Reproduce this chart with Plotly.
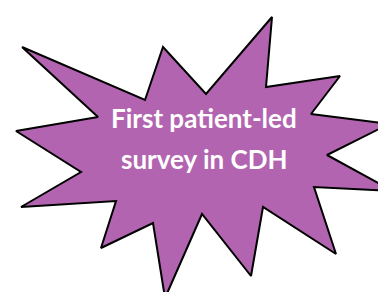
import plotly.graph_objects as go

# Starburst outline vertices (tip / inner alternating), in picture units
star_x = [14, 137, 155, 198, 264, 258, 332, 303, 381, 319, 385, 306,
          328, 255, 243, 194, 157, 145, 93, 108, 13, 73, 8, 90, 14]
star_y = [39, 92, 39, 86, 9, 79, 68, 106, 116, 147, 183, 179,
          246, 199, 268, 206, 290, 215, 240, 193, 199, 164, 123, 109, 39]

label_lines = ["First patient-led", "survey in CDH"]
label_y = [110, 151]
label_x = 196

fig = go.Figure()
fig.add_trace(go.Scatter(
    x=star_x, y=star_y, mode="lines", fill="toself",
    fillcolor="#B264B0", line=dict(color="#000000", width=2),
    hoverinfo="skip", showlegend=False))

for txt, yy in zip(label_lines, label_y):
    fig.add_annotation(x=label_x, y=yy, text="<b>%s</b>" % txt, showarrow=False,
                       font=dict(family="Lato", size=26, color="#FFFFFF"),
                       xanchor="center", yanchor="middle")

fig.update_layout(
    width=386, height=292, autosize=False,
    margin=dict(l=0, r=0, t=0, b=0),
    paper_bgcolor="#FFFFFF", plot_bgcolor="#FFFFFF",
    xaxis=dict(range=[0, 386], visible=False, fixedrange=True),
    yaxis=dict(range=[292, 0], visible=False, fixedrange=True),
)
fig.write_html("out.html", config={"displayModeBar": False})
